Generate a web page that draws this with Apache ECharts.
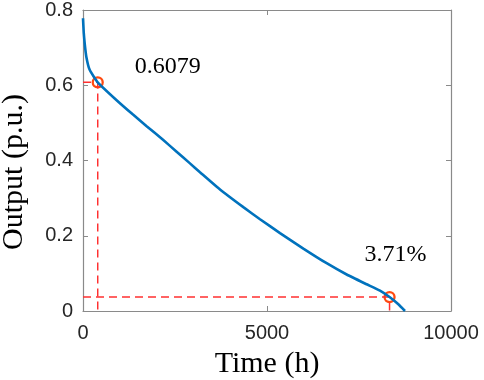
<!DOCTYPE html>
<html>
<head>
<meta charset="utf-8">
<script src="https://cdn.jsdelivr.net/npm/echarts@6/dist/echarts.min.js"></script>
<style>html,body{margin:0;padding:0;background:#fff;}#c{width:484px;height:380px;}</style>
</head>
<body>
<div id="c"></div>
<script>
// Duration curve (time in hours, output in p.u.)
const timeH = [0, 20, 45, 90, 181, 400, 906, 1359, 1721, 2174, 2536, 2899, 3179, 3723, 4357, 4810, 5353, 5987, 6621, 7165, 7708, 8070, 8330, 8569, 8750];
const outputPU = [0.778, 0.74, 0.712, 0.676, 0.641, 0.6079, 0.561, 0.522, 0.492, 0.455, 0.424, 0.393, 0.369, 0.323, 0.276, 0.244, 0.207, 0.166, 0.127, 0.097, 0.071, 0.054, 0.0371, 0.018, 0.0];
// Highlighted points
const markT = [400, 8330];
const markV = [0.6079, 0.0371];
const markLabels = ['0.6079', '3.71%'];
const xTicks = [0, 5000, 10000];
const yTicks = [0, 0.2, 0.4, 0.6, 0.8];

const curve = timeH.map((t, i) => [t, outputPU[i]]);
const guide1 = [[0, markV[0]], [markT[0], markV[0]], [markT[0], 0]];
const guide2 = [[0, markV[1]], [markT[1], markV[1]], [markT[1], 0]];

const axisColor = '#8a8a8a';
const labelFont = {color: '#262626', fontSize: 20, fontFamily: 'Liberation Sans, Arial, sans-serif'};
const nameFont = {color: '#000', fontSize: 30, fontFamily: 'Liberation Serif, Times New Roman, serif'};

const chart = echarts.init(document.getElementById('c'), null, {renderer: 'canvas'});
chart.setOption({
  animation: false,
  grid: {left: 83, top: 10, width: 368, height: 301, show: false, containLabel: false, outerBoundsMode: 'none'},
  xAxis: [{
    type: 'value', min: xTicks[0], max: xTicks[xTicks.length - 1], interval: xTicks[1] - xTicks[0], position: 'bottom',
    axisLine: {show: true, onZero: false, lineStyle: {color: axisColor, width: 1.2}},
    axisTick: {show: true, inside: true, length: 5, lineStyle: {color: axisColor}},
    axisLabel: Object.assign({margin: 12, formatter: v => String(v)}, labelFont),
    splitLine: {show: false},
    name: 'Time (h)', nameLocation: 'middle', nameGap: 38, nameTextStyle: nameFont
  }, {
    type: 'value', min: xTicks[0], max: xTicks[xTicks.length - 1], interval: xTicks[1] - xTicks[0], position: 'top',
    axisLine: {show: true, onZero: false, lineStyle: {color: axisColor, width: 1.2}},
    axisTick: {show: true, inside: true, length: 5, lineStyle: {color: axisColor}},
    axisLabel: {show: false}, splitLine: {show: false}
  }],
  yAxis: [{
    type: 'value', min: yTicks[0], max: yTicks[yTicks.length - 1], interval: 0.2, position: 'left',
    axisLine: {show: true, onZero: false, lineStyle: {color: axisColor, width: 1.2}},
    axisTick: {show: true, inside: true, length: 5, lineStyle: {color: axisColor}},
    axisLabel: Object.assign({margin: 10, formatter: v => (v === 0 ? '0' : v.toFixed(1))}, labelFont),
    splitLine: {show: false},
    name: 'Output (p.u.)', nameLocation: 'middle', nameGap: 54,
    nameTextStyle: Object.assign({padding: [0, 23, 0, 0]}, nameFont)
  }, {
    type: 'value', min: yTicks[0], max: yTicks[yTicks.length - 1], interval: 0.2, position: 'right',
    axisLine: {show: true, onZero: false, lineStyle: {color: axisColor, width: 1.2}},
    axisTick: {show: true, inside: true, length: 5, lineStyle: {color: axisColor}},
    axisLabel: {show: false}, splitLine: {show: false}
  }],
  series: [
    {type: 'line', data: guide1, symbol: 'none', silent: true,
     lineStyle: {color: '#ff3030', width: 1.5, type: [8, 5]}},
    {type: 'line', data: guide2, symbol: 'none', silent: true,
     lineStyle: {color: '#ff3030', width: 1.5, type: [8, 5]}},
    {type: 'line', data: curve, symbol: 'none', smooth: 0.15,
     lineStyle: {color: '#0072BD', width: 2.6}},
    {type: 'scatter', data: markT.map((t, i) => [t, markV[i]]), symbol: 'circle', symbolSize: 10,
     itemStyle: {color: 'rgba(255,255,255,0)', borderColor: '#ff4a10', borderWidth: 2.3, opacity: 1},
     label: {show: true, position: 'inside', align: 'left', verticalAlign: 'middle',
       formatter: p => markLabels[p.dataIndex],
       color: '#000', fontSize: 24, fontFamily: 'Liberation Serif, Times New Roman, serif'},
     labelLayout: p => p.dataIndex === 0 ? {dx: 37, dy: -16} : {dx: -25, dy: -42}
    }
  ]
});
</script>
</body>
</html>
